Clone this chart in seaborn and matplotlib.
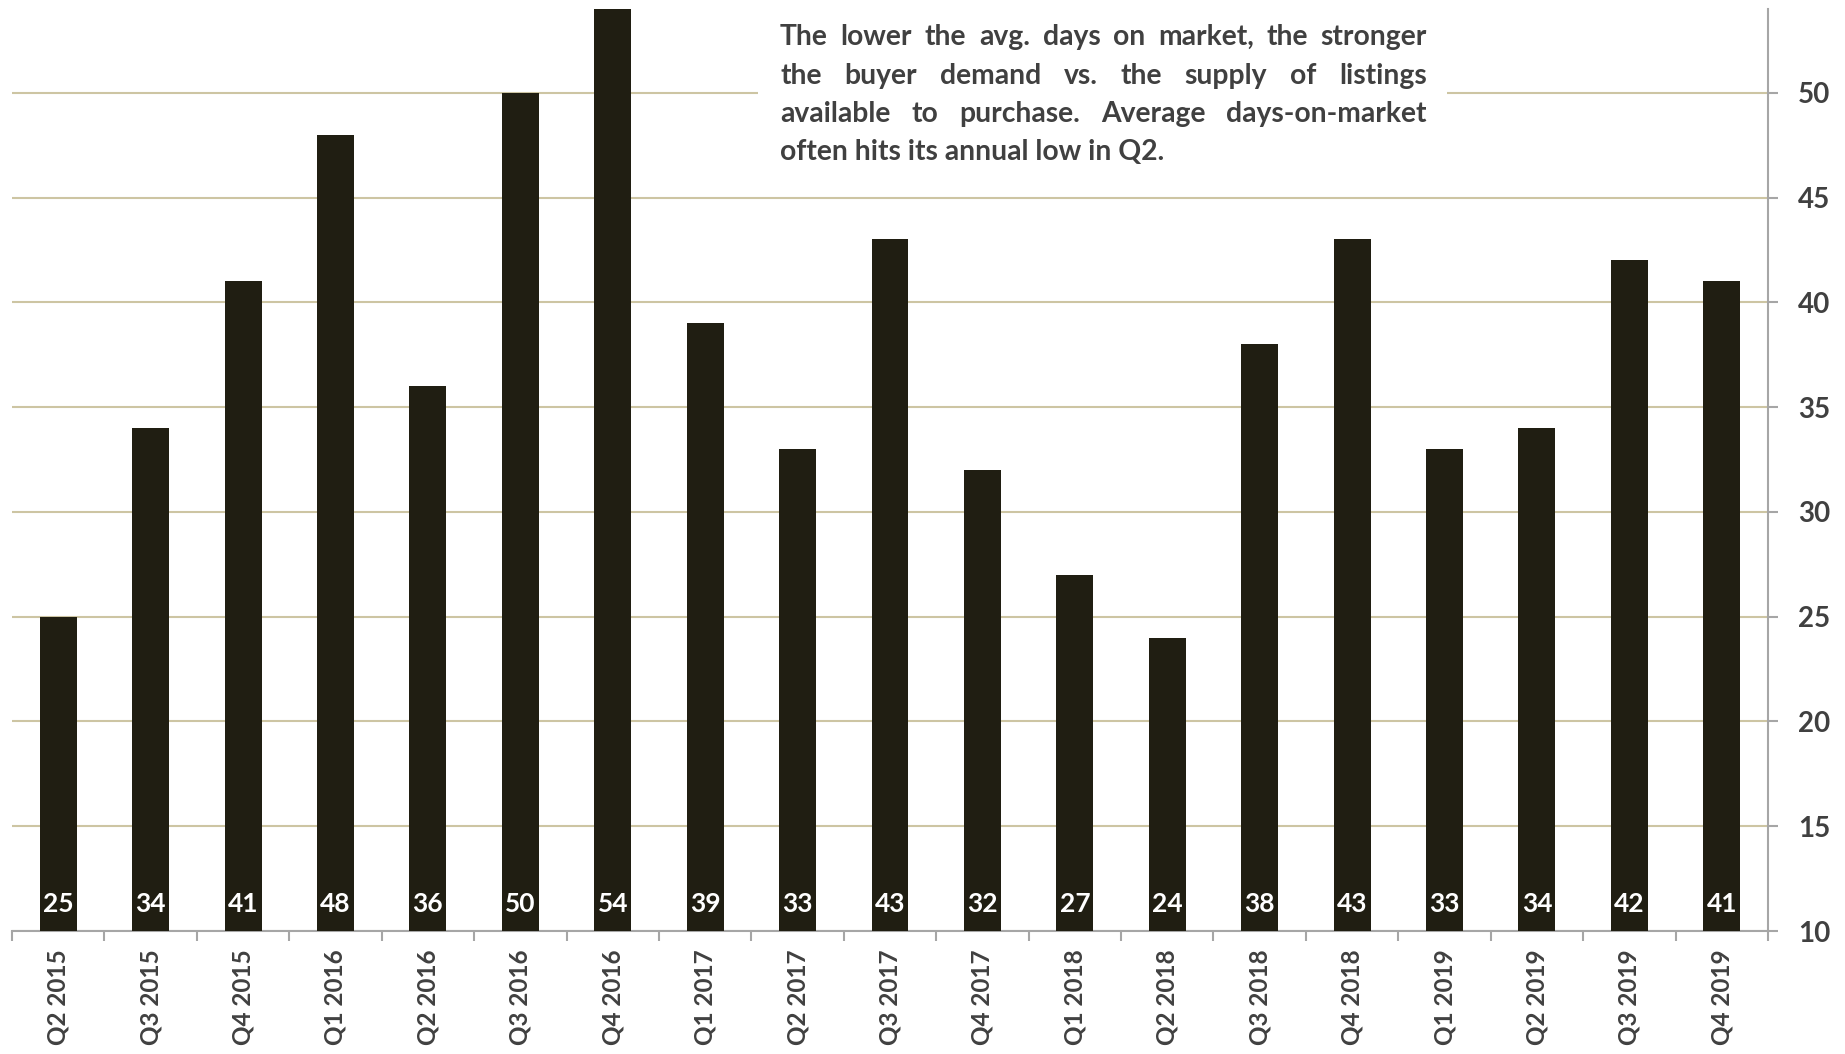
import matplotlib
matplotlib.use("Agg")
import matplotlib.pyplot as plt
from matplotlib.patches import Rectangle
from matplotlib.ticker import FixedLocator
import seaborn as sns
import pandas as pd

quarters = ["Q2 2015", "Q3 2015", "Q4 2015", "Q1 2016", "Q2 2016", "Q3 2016", "Q4 2016",
            "Q1 2017", "Q2 2017", "Q3 2017", "Q4 2017", "Q1 2018", "Q2 2018", "Q3 2018",
            "Q4 2018", "Q1 2019", "Q2 2019", "Q3 2019", "Q4 2019"]
days = [25, 34, 41, 48, 36, 50, 54, 39, 33, 43, 32, 27, 24, 38, 43, 33, 34, 42, 41]
y_ticks = [10, 15, 20, 25, 30, 35, 40, 45, 50]
note_lines = ["The lower the avg. days on market, the stronger",
              "the buyer demand vs. the supply of listings",
              "available to purchase. Average days-on-market",
              "often hits its annual low in Q2."]

sns.set_style("white")
plt.rcParams["font.family"] = ["Lato", "DejaVu Sans"]

BAR = "#201e12"
TXT = "#404040"
GRID = "#cdc5a3"
AX = "#a6a6a6"

fig = plt.figure(figsize=(18.45, 10.54), dpi=100)
ax = fig.add_axes([12 / 1845, 123 / 1054, (1768 - 12) / 1845, (1045 - 123) / 1054])

df = pd.DataFrame({"quarter": quarters, "days": days})
sns.barplot(data=df, x="quarter", y="days", color=BAR, saturation=1, width=0.4,
            ax=ax, zorder=3, edgecolor="none")

ax.set_xlim(-0.5, len(quarters) - 0.5)
ax.set_ylim(10, 54)
ax.set_xlabel("")
ax.set_ylabel("")

# grid
ax.set_axisbelow(True)
ax.yaxis.tick_right()
ax.set_yticks(y_ticks)
ax.grid(axis="y", color=GRID, lw=1.5, zorder=0)
ax.grid(axis="x", visible=False)

# spines
for s in ["left", "top"]:
    ax.spines[s].set_visible(False)
for s in ["right", "bottom"]:
    ax.spines[s].set_color(AX)
    ax.spines[s].set_linewidth(1.5)

# ticks
ax.set_xticks(range(len(quarters)))
ax.set_xticklabels(quarters, rotation=90, fontsize=17.5, fontweight="bold", color=TXT)
ax.xaxis.set_minor_locator(FixedLocator([i - 0.5 for i in range(len(quarters) + 1)]))
ax.tick_params(axis="x", which="major", length=0, pad=13)
ax.tick_params(axis="x", which="minor", length=7.5, width=1.5, color=AX, bottom=True)
ax.tick_params(axis="y", which="major", length=7.5, width=1.5, color=AX, pad=14,
               labelsize=20, labelcolor=TXT, right=True, left=False)
for lab in ax.get_yticklabels():
    lab.set_fontweight("bold")

# value labels at the bottom of bars
for i, v in enumerate(days):
    ax.annotate(str(v), xy=(i, 10), xytext=(0, 14), textcoords="offset points",
                ha="center", va="baseline", fontsize=19, fontweight="bold",
                color="white", zorder=5)

# white box behind the note
ax.add_patch(Rectangle((7.57, 46.0), 15.03 - 7.57, 9, facecolor="white",
                       edgecolor="none", zorder=1))

# justified note text
x0, x1 = 7.81, 14.81
baselines = [52.29, 50.43, 48.62, 46.81]
renderer = fig.canvas.get_renderer()
px0 = ax.transData.transform((x0, 50))[0]
px1 = ax.transData.transform((x1, 50))[0]
target = px1 - px0


def width(s, fs):
    t = ax.text(0, 0, s, fontsize=fs, fontweight="bold")
    w = t.get_window_extent(renderer).width
    t.remove()
    return w


fs0 = 17
maxw = max(width(l, fs0) for l in note_lines)
fs = fs0 * 0.93 * target / maxw

for li, (line, yb) in enumerate(zip(note_lines, baselines)):
    words = line.split(" ")
    py = ax.transData.transform((x0, yb))[1]
    if li == len(note_lines) - 1:
        ax.text(x0, yb, line, fontsize=fs, fontweight="bold", color=TXT,
                ha="left", va="baseline", zorder=6)
        continue
    ws = [width(w, fs) for w in words]
    gap = (target - sum(ws)) / (len(words) - 1)
    px = px0
    for w, ww in zip(words, ws):
        dx, dy = ax.transData.inverted().transform((px, py))
        ax.text(dx, yb, w, fontsize=fs, fontweight="bold", color=TXT,
                ha="left", va="baseline", zorder=6)
        px += ww + gap

fig.savefig("out.png", dpi=100)
